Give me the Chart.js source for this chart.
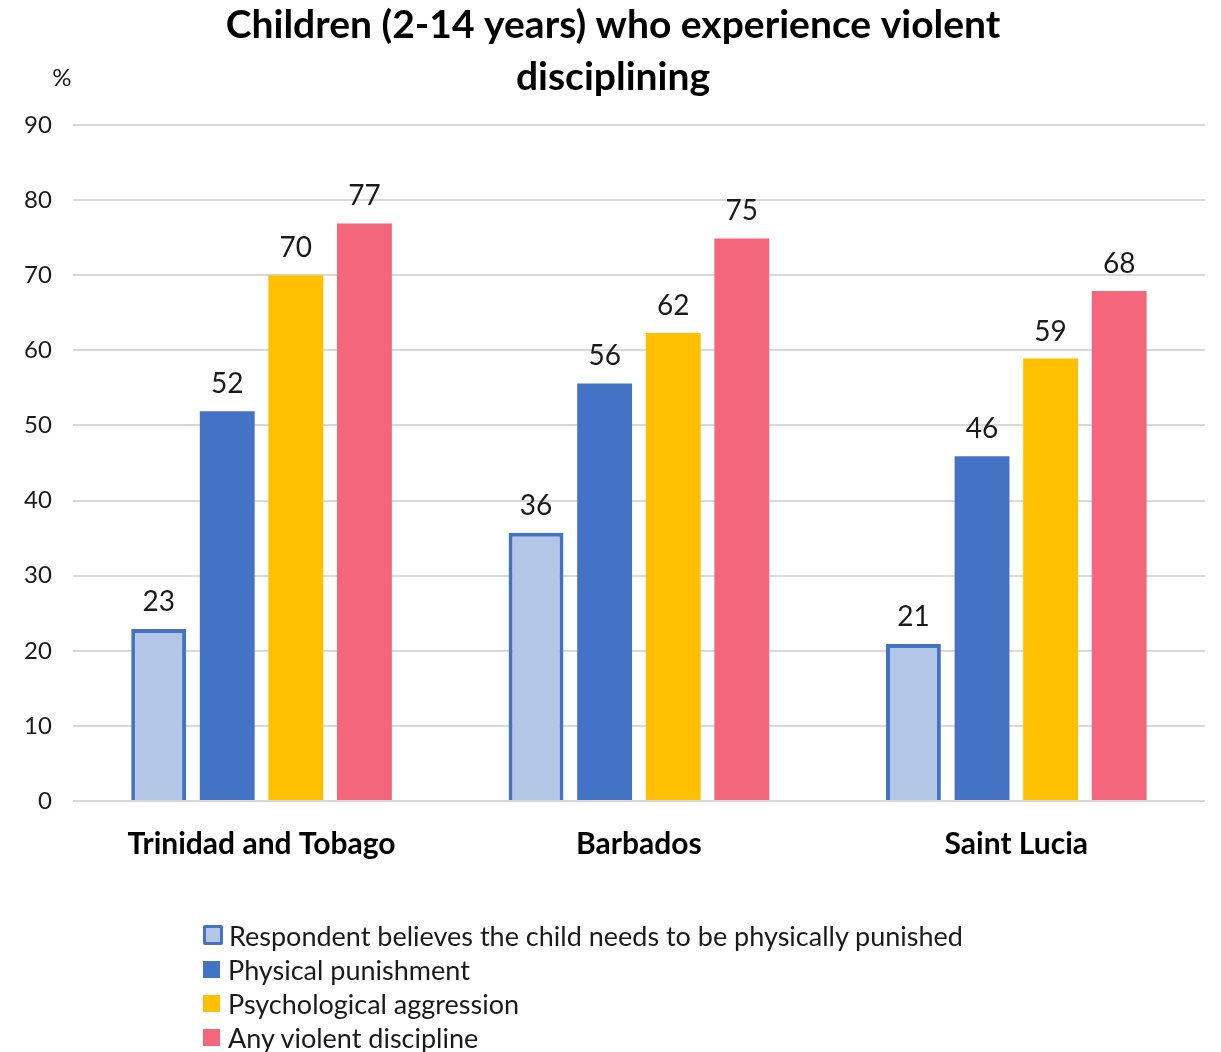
<!DOCTYPE html>
<html>
<head>
<meta charset="utf-8">
<script src="https://cdn.jsdelivr.net/npm/chart.js@4.4.1/dist/chart.umd.min.js"></script>
<style>
  html, body { margin: 0; padding: 0; background: #fff; }
  #wrap { position: relative; width: 1221px; height: 1052px; overflow: hidden; }
  #c { position: absolute; left: 0; top: 0; }
  #legend { position: absolute; left: 203px; top: 918px; font-family: Lato, "Open Sans", sans-serif; font-size: 27px; color: #1a1a1a; }
  .item { display: flex; align-items: center; height: 34px; }
  .sw { width: 17px; height: 17px; margin-right: 8px; box-sizing: border-box; }
</style>
</head>
<body>
<div id="wrap">
  <canvas id="c" width="1221" height="1052"></canvas>
  <div id="legend"></div>
</div>
<script>
const titleLines = ["Children (2-14 years) who experience violent", "disciplining"];
const unitLabel = "%";
const categories = ["Trinidad and Tobago", "Barbados", "Saint Lucia"];
const seriesNames = [
  "Respondent believes the child needs to be physically punished",
  "Physical punishment",
  "Psychological aggression",
  "Any violent discipline"
];
const believesPunish = [22.9, 35.7, 20.9];
const physicalPunishment = [51.9, 55.6, 45.9];
const psychAggression = [70.0, 62.3, 58.9];
const anyViolent = [76.9, 74.9, 67.9];
const yTicks = [0, 10, 20, 30, 40, 50, 60, 70, 80, 90];

const fills = ["#B4C7E7", "#4472C4", "#FFC000", "#F4667C"];
const borders = ["#4472C4", "#4472C4", "#FFC000", "#F4667C"];
const borderWidths = [4, 0, 0, 0];
const seriesValues = [believesPunish, physicalPunishment, psychAggression, anyViolent];

const FONT = "Lato, 'Open Sans', sans-serif";

const labelPlugin = {
  id: 'valueLabels',
  afterDatasetsDraw(chart) {
    const ctx = chart.ctx;
    ctx.save();
    ctx.font = "28px " + FONT;
    ctx.fillStyle = "#1a1a1a";
    ctx.textAlign = "center";
    ctx.textBaseline = "bottom";
    chart.data.datasets.forEach((ds, i) => {
      const meta = chart.getDatasetMeta(i);
      meta.data.forEach((bar, j) => {
        ctx.fillText(String(Math.round(ds.data[j])), bar.x, bar.y - 13);
      });
    });
    ctx.font = "24px " + FONT;
    ctx.textAlign = "center";
    ctx.textBaseline = "middle";
    ctx.fillText(unitLabel, chart.chartArea.left - 11, chart.chartArea.top - 47);
    // title
    ctx.fillStyle = "#000";
    ctx.font = "bold 39px " + FONT;
    ctx.textBaseline = "middle";
    ctx.fillText(titleLines[0], 613, 25);
    ctx.fillText(titleLines[1], 613, 77);
    ctx.restore();
  }
};

new Chart(document.getElementById('c'), {
  type: 'bar',
  data: {
    labels: categories,
    datasets: seriesNames.map((name, i) => ({
      label: name,
      data: seriesValues[i],
      backgroundColor: fills[i],
      borderColor: borders[i],
      borderWidth: borderWidths[i],
      categoryPercentage: 0.727,
      barPercentage: 0.8
    }))
  },
  options: {
    responsive: false,
    animation: false,
    layout: { padding: { left: 3, right: 16, top: 125, bottom: 173 } },
    plugins: {
      legend: { display: false },
      tooltip: { enabled: false },
      title: { display: false }
    },
    scales: {
      x: {
        grid: { display: false },
        border: { display: false },
        ticks: { color: "#000", font: { family: FONT, size: 30, weight: "bold" }, padding: 17 }
      },
      y: {
        min: 0, max: 90,
        afterBuildTicks(axis) { axis.ticks = yTicks.map(v => ({ value: v })); },
        grid: { color: "#d9d9d9", lineWidth: 2, drawTicks: false },
        border: { display: false },
        ticks: { color: "#1a1a1a", font: { family: FONT, size: 24 }, padding: 21 }
      }
    }
  },
  plugins: [labelPlugin]
});

const legend = document.getElementById('legend');
seriesNames.forEach((name, i) => {
  const row = document.createElement('div');
  row.className = 'item';
  const sw = document.createElement('span');
  sw.className = 'sw';
  sw.style.background = fills[i];
  if (borderWidths[i]) { sw.style.border = "3px solid " + borders[i]; sw.style.borderRadius = "2px"; sw.style.width = "20px"; sw.style.height = "20px"; sw.style.marginRight = "6px"; }
  const t = document.createElement('span');
  t.textContent = name;
  row.appendChild(sw); row.appendChild(t);
  legend.appendChild(row);
});
</script>
</body>
</html>
